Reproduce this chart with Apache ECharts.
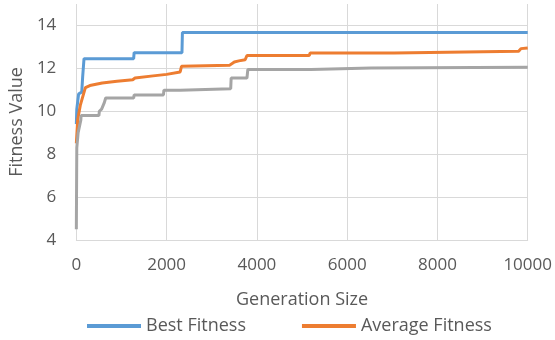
<!DOCTYPE html>
<html>
<head>
<meta charset="utf-8">
<script src="https://cdn.jsdelivr.net/npm/echarts@6/dist/echarts.min.js"></script>
<style>html,body{margin:0;padding:0;background:#fff}#c{width:555px;height:340px}</style>
</head>
<body>
<div id="c"></div>
<script>
var seriesNames = ['Best Fitness', 'Average Fitness', 'Worst Fitness'];
var xTicks = [0, 2000, 4000, 6000, 8000, 10000];
var yTicks = [4, 6, 8, 10, 12, 14];

var bestX = [0, 10, 50, 120, 140, 170, 1270, 1280, 2340, 2350, 10000];
var bestY = [9.4, 10.1, 10.8, 10.9, 11.6, 12.45, 12.45, 12.73, 12.73, 13.67, 13.67];

var avgX = [0, 30, 90, 200, 300, 573, 900, 1250, 1300, 1700, 2000, 2300, 2330, 3400, 3500, 3600, 3740, 3780, 5160, 5180, 7040, 7060, 9800, 9850, 10000];
var avgY = [8.5, 9.6, 10.3, 11.1, 11.2, 11.32, 11.4, 11.47, 11.55, 11.65, 11.72, 11.83, 12.1, 12.15, 12.3, 12.35, 12.4, 12.6, 12.6, 12.72, 12.72, 12.8, 12.8, 12.92, 12.95];

var worstX = [0, 10, 40, 100, 105, 500, 510, 560, 620, 650, 1270, 1280, 1930, 1940, 2300, 2310, 3420, 3430, 3780, 3800, 5200, 5220, 6530, 6540, 10000];
var worstY = [4.5, 8.3, 9.0, 9.6, 9.8, 9.8, 10.0, 10.1, 10.4, 10.62, 10.62, 10.76, 10.76, 10.98, 10.98, 11.05, 11.05, 11.55, 11.55, 11.95, 11.95, 12.02, 12.02, 12.05, 12.05];

function pairs(xs, ys) { return xs.map(function (x, i) { return [x, ys[i]]; }); }

var font = '"Open Sans", "Noto Sans", sans-serif';
var txt = '#595959';
var chart = echarts.init(document.getElementById('c'), null, {renderer: 'canvas'});
chart.setOption({
  animation: false,
  grid: {left: 74, right: 27, top: 4, bottom: 100},
  legend: {
    data: [seriesNames[0], seriesNames[1]],
    left: 82, top: 312,
    icon: 'rect', itemWidth: 54, itemHeight: 4, itemGap: 56,
    textStyle: {color: txt, fontSize: 18, fontFamily: font}
  },
  xAxis: {
    type: 'value', min: xTicks[0], max: xTicks[xTicks.length - 1], interval: 2000,
    name: 'Generation Size', nameLocation: 'middle', nameGap: 51,
    nameTextStyle: {color: txt, fontSize: 18, fontFamily: font},
    axisLine: {show: true, lineStyle: {color: '#D9D9D9', width: 1}},
    axisTick: {show: false},
    axisLabel: {color: txt, fontSize: 17, fontFamily: font, margin: 17,
      formatter: function (v) { return String(v); }},
    splitLine: {show: true, lineStyle: {color: '#D9D9D9', width: 1}}
  },
  yAxis: {
    type: 'value', min: yTicks[0], max: 15, interval: 2,
    name: 'Fitness Value', nameLocation: 'middle', nameGap: 44,
    nameTextStyle: {color: txt, fontSize: 18, fontFamily: font},
    axisLine: {show: false}, axisTick: {show: false},
    axisLabel: {color: txt, fontSize: 17, fontFamily: font, margin: 20, showMaxLabel: false},
    splitLine: {show: true, showMaxLine: false, lineStyle: {color: '#D9D9D9', width: 1}}
  },
  series: [
    {name: seriesNames[0], type: 'line', showSymbol: false, data: pairs(bestX, bestY),
     lineStyle: {color: '#5B9BD5', width: 3}, itemStyle: {color: '#5B9BD5'}},
    {name: seriesNames[1], type: 'line', showSymbol: false, data: pairs(avgX, avgY),
     lineStyle: {color: '#ED7D31', width: 3}, itemStyle: {color: '#ED7D31'}},
    {name: seriesNames[2], type: 'line', showSymbol: false, data: pairs(worstX, worstY),
     lineStyle: {color: '#A5A5A5', width: 3}, itemStyle: {color: '#A5A5A5'}}
  ]
});
</script>
</body>
</html>
